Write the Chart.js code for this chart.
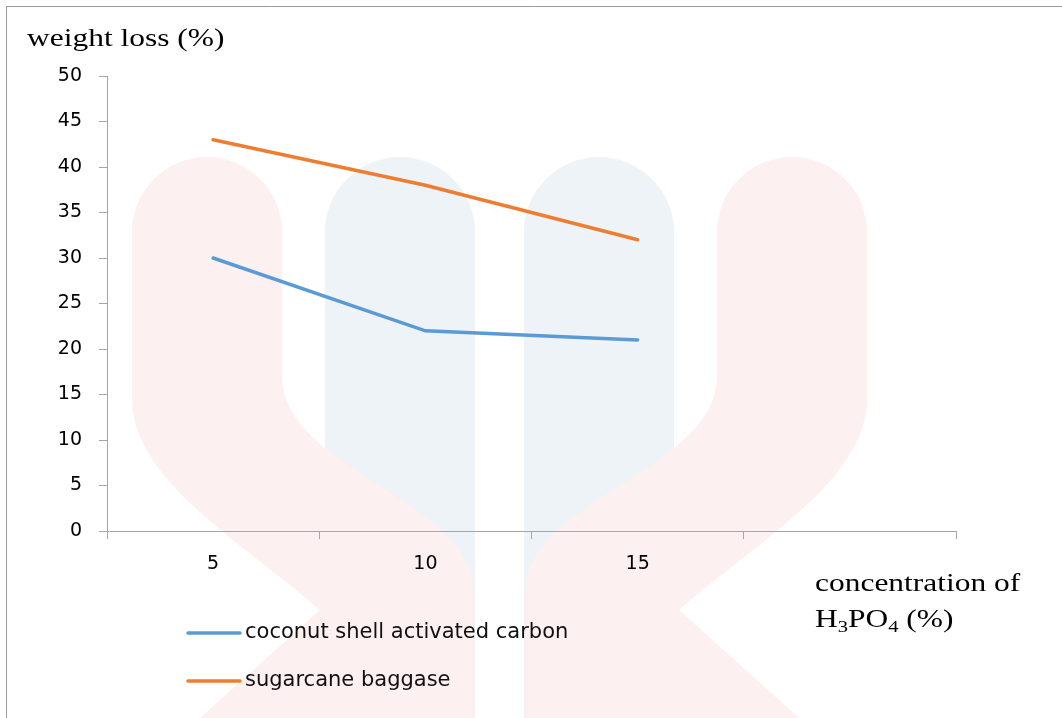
<!DOCTYPE html>
<html>
<head>
<meta charset="utf-8">
<script src="https://cdn.jsdelivr.net/npm/chart.js@4/dist/chart.umd.min.js"></script>
<style>
  html, body { margin: 0; padding: 0; background: #fff; }
  #wrap { width: 1062px; height: 718px; position: relative; }
</style>
</head>
<body>
<div id="wrap"><canvas id="chart"></canvas></div>
<script>
// concentration of H3PO4 (%) — last category is an empty slot, as in the original
const categories = ["5", "10", "15", ""]
const coconutShell = [30, 22, 21, null]
const sugarcane    = [43, 38, 32, null]

const AXIS_GREY = "#a6a6a6"
const SANS = "'DejaVu Sans', sans-serif"
const SERIF = "'Liberation Serif', serif"
const STRETCH = 1.21 // the original picture is a bit wider than tall

// faint logo watermark behind the plot
const watermark = {
  id: "watermark",
  beforeDraw(chart) {
    const ctx = chart.ctx
    ctx.save()
    // blue pillars
    ctx.fillStyle = "#eef3f8"
    for (const [x0, x1] of [[325, 475], [524, 674]]) {
      const r = (x1 - x0) / 2
      ctx.beginPath()
      ctx.moveTo(x0, 718)
      ctx.lineTo(x0, 157 + r)
      ctx.arc(x0 + r, 157 + r, r, Math.PI, 0)
      ctx.lineTo(x1, 718)
      ctx.closePath()
      ctx.fill()
    }
    // red S-shapes, right one mirrored
    ctx.fillStyle = "#fdf0f0"
    for (const m of [1, -1]) {
      const X = (x) => (m === 1 ? x : 999 - x)
      ctx.beginPath()
      ctx.moveTo(X(132), 232)
      if (m === 1) ctx.arc(X(207), 232, 75, Math.PI, 0)
      else ctx.arc(X(207), 232, 75, 0, Math.PI, true)
      ctx.lineTo(X(282), 376)
      ctx.bezierCurveTo(X(282), 470, X(473), 500, X(473), 590)
      ctx.lineTo(X(473), 718)
      ctx.lineTo(X(200), 718)
      ctx.lineTo(X(320), 610)
      ctx.bezierCurveTo(X(240), 540, X(132), 480, X(132), 398)
      ctx.closePath()
      ctx.fill()
    }
    // frame (top and left edge)
    ctx.strokeStyle = "#999"
    ctx.lineWidth = 1
    ctx.beginPath()
    ctx.moveTo(6.5, 718)
    ctx.lineTo(6.5, 6.5)
    ctx.lineTo(1062, 6.5)
    ctx.stroke()
    ctx.restore()
  },
}

function stretchedText(ctx, txt, x, y) {
  ctx.save()
  ctx.translate(x, y)
  ctx.scale(STRETCH, 1)
  ctx.fillText(txt, 0, 0)
  ctx.restore()
  return ctx.measureText(txt).width * STRETCH
}

// axis titles and the stacked legend
const annotations = {
  id: "annotations",
  afterDraw(chart) {
    const ctx = chart.ctx
    ctx.save()
    ctx.fillStyle = "#000"
    ctx.textBaseline = "alphabetic"
    ctx.textAlign = "left"
    ctx.font = "26px " + SERIF
    stretchedText(ctx, "weight loss (%)", 27, 46)
    stretchedText(ctx, "concentration of", 815, 591)

    // H3PO4 (%) with subscripts
    let x = 815
    const base = 627
    const parts = [["H", false], ["3", true], ["PO", false], ["4", true], [" (%)", false]]
    for (const [txt, sub] of parts) {
      ctx.font = (sub ? "17px " : "26px ") + SERIF
      x += stretchedText(ctx, txt, x, sub ? base + 5 : base)
    }

    // legend
    ctx.font = "21px " + SANS
    ctx.textBaseline = "middle"
    chart.data.datasets.forEach((ds, i) => {
      const y = 633 + i * 48
      ctx.strokeStyle = ds.borderColor
      ctx.lineWidth = 3.5
      ctx.lineCap = "round"
      ctx.beginPath()
      ctx.moveTo(188, y)
      ctx.lineTo(240, y)
      ctx.stroke()
      ctx.fillStyle = "#111"
      ctx.fillText(ds.label, 245, y)
    })
    ctx.restore()
  },
}

new Chart(document.getElementById("chart"), {
  type: "line",
  data: {
    labels: categories,
    datasets: [
      { label: "coconut shell activated carbon", data: coconutShell, borderColor: "#5b9bd5", backgroundColor: "#5b9bd5" },
      { label: "sugarcane baggase", data: sugarcane, borderColor: "#ed7d31", backgroundColor: "#ed7d31" },
    ],
  },
  options: {
    responsive: true,
    maintainAspectRatio: false,
    animation: false,
    layout: { padding: { left: 0, top: 76, right: 106, bottom: 0 } },
    elements: {
      line: { borderWidth: 3.5, tension: 0, borderCapStyle: "round" },
      point: { radius: 0, hoverRadius: 0 },
    },
    scales: {
      x: {
        offset: true,
        grid: { offset: true, drawOnChartArea: false, tickLength: 8, color: AXIS_GREY },
        border: { color: AXIS_GREY, width: 1 },
        ticks: { color: "#000", font: { family: SANS, size: 19 }, padding: 14, maxRotation: 0 },
        afterFit: (s) => { s.height = 187 },
      },
      y: {
        min: 0,
        max: 50,
        grid: { drawOnChartArea: false, tickLength: 8, color: AXIS_GREY },
        border: { color: AXIS_GREY, width: 1 },
        ticks: { stepSize: 5, color: "#000", font: { family: SANS, size: 19 }, padding: 17 },
        afterFit: (s) => { s.width = 107 },
      },
    },
    plugins: {
      legend: { display: false },
      tooltip: { enabled: false },
    },
  },
  plugins: [watermark, annotations],
})
</script>
</body>
</html>
